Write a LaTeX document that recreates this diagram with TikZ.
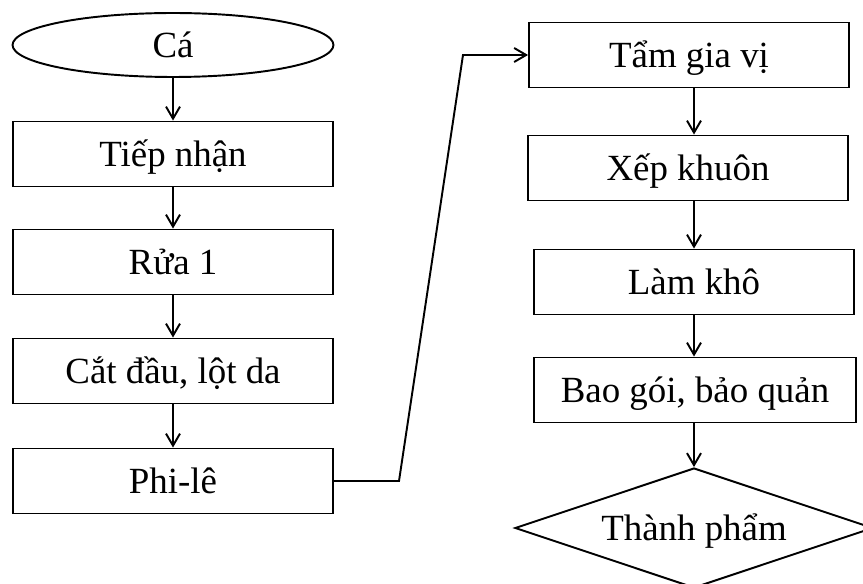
\documentclass[tikz,border=0pt]{standalone}
\usepackage{fontspec}
\setmainfont{Liberation Serif}
\usepackage{tikz}
\usetikzlibrary{arrows.meta, positioning, shapes.geometric}

\begin{document}
\begin{tikzpicture}[
    x=0.02cm, y=-0.02cm,
    every node/.style={font=\fontsize{21}{25}\selectfont, line width=1.1pt, text depth=0pt, text height=0.5cm},
    buoc/.style={rectangle, draw, minimum width=6.4cm, minimum height=1.3cm, inner sep=0pt},
    batdau/.style={ellipse, draw, minimum width=6.42cm, minimum height=1.28cm, inner sep=0pt},
    ketthuc/.style={diamond, draw, aspect=2.98, minimum width=7.16cm, minimum height=2.4cm, inner sep=0pt},
    flow/.style={-{Straight Barb[length=2.4mm, width=2.8mm]}, line width=1.1pt}
]
\useasboundingbox (0,0) rectangle (863,584);

% Cot trai
\node[batdau] (ca) at (173,45) {Cá};
\node[buoc] (tiepnhan) at (173,154) {Tiếp nhận};
\node[buoc] (rua) at (173,262) {Rửa 1};
\node[buoc] (catdau) at (173,371) {Cắt đầu, lột da};
\node[buoc] (phile) at (173,481) {Phi-lê};

% Cot phai
\node[buoc] (tam) at (689,55) {Tẩm gia vị};
\node[buoc] (xep) at (688,168) {Xếp khuôn};
\node[buoc] (lamkho) at (694,282) {Làm khô};
\node[buoc, minimum width=6.44cm] (baogoi) at (695,390) {Bao gói, bảo quản};
\node[ketthuc] (thanhpham) at (694,528) {Thành phẩm};

% Diem gay cua duong noi
\coordinate (k1) at (399,481);
\coordinate (k2) at (463,55);

% Mui ten
\draw[flow] (ca) -- (tiepnhan);
\draw[flow] (tiepnhan) -- (rua);
\draw[flow] (rua) -- (catdau);
\draw[flow] (catdau) -- (phile);
\draw[flow] (phile.east) -- (k1) -- (k2) -- (tam.west);
\draw[flow] (tam.south -| 694,0) -- (xep.north -| 694,0);
\draw[flow] (xep.south -| 694,0) -- (lamkho.north -| 694,0);
\draw[flow] (lamkho.south -| 694,0) -- (baogoi.north -| 694,0);
\draw[flow] (baogoi.south -| 694,0) -- (thanhpham.north);

\end{tikzpicture}
\end{document}
